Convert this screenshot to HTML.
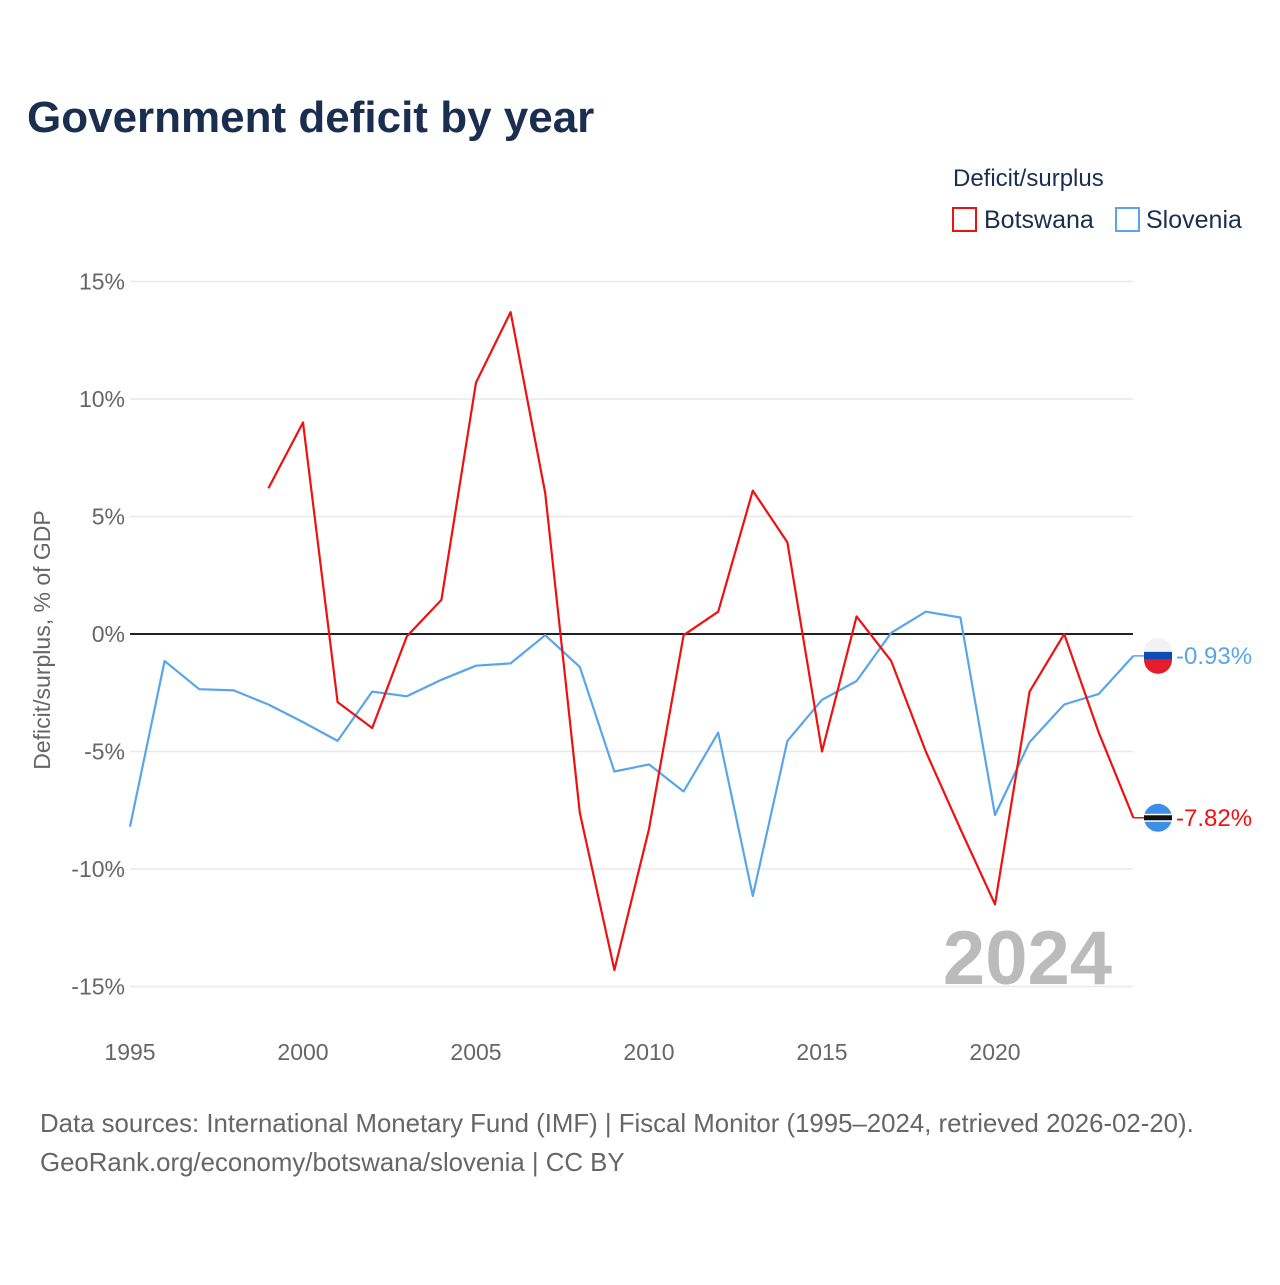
<!DOCTYPE html>
<html><head><meta charset="utf-8"><style>
body{margin:0;background:#fff;font-family:"Liberation Sans",sans-serif}
svg text{font-family:"Liberation Sans",sans-serif}
</style></head><body>
<svg id="chart" width="1280" height="1280" viewBox="0 0 1280 1280" xmlns="http://www.w3.org/2000/svg">
<rect width="1280" height="1280" fill="#fff"/>
<text x="27" y="132" font-size="44" font-weight="bold" fill="#1a2e4f">Government deficit by year</text>
<text x="953" y="186" font-size="24" fill="#1a2e4f">Deficit/surplus</text>
<g><rect x="953" y="208" width="23" height="23" fill="#fff" stroke="#ee1111" stroke-width="2"/><text x="984" y="228" font-size="25" fill="#1a2e4f">Botswana</text></g>
<g><rect x="1116" y="208" width="23" height="23" fill="#fff" stroke="#5aa5ea" stroke-width="2"/><text x="1146" y="228" font-size="25" fill="#1a2e4f">Slovenia</text></g>
<text transform="translate(50,640) rotate(-90)" text-anchor="middle" font-size="23" fill="#666">Deficit/surplus, % of GDP</text>
<g id="grid"></g><g id="axes"></g>
<text x="1112" y="984" text-anchor="end" font-size="76" font-weight="bold" fill="#bbb">2024</text>
<g id="series"></g>
<text x="40" y="1132" font-size="25.8" fill="#666">Data sources: International Monetary Fund (IMF) | Fiscal Monitor (1995–2024, retrieved 2026-02-20).</text>
<text x="40" y="1171" font-size="25.8" fill="#666">GeoRank.org/economy/botswana/slovenia | CC BY</text>
</svg>
<script>
const years=[1995,1996,1997,1998,1999,2000,2001,2002,2003,2004,2005,2006,2007,2008,2009,2010,2011,2012,2013,2014,2015,2016,2017,2018,2019,2020,2021,2022,2023,2024];
const botswana=[null,null,null,null,6.2,9.0,-2.9,-4.0,-0.1,1.45,10.7,13.7,6.0,-7.6,-14.3,-8.3,-0.05,0.95,6.1,3.9,-5.0,0.75,-1.15,-5.0,-8.3,-11.5,-2.45,0,-4.2,-7.82];
const slovenia=[-8.2,-1.15,-2.35,-2.4,-3.0,-3.75,-4.55,-2.45,-2.65,-1.95,-1.35,-1.25,-0.05,-1.4,-5.85,-5.55,-6.7,-4.2,-11.15,-4.55,-2.8,-2.0,0.05,0.95,0.7,-7.7,-4.6,-3.0,-2.55,-0.93];
const yTicks=[15,10,5,0,-5,-10,-15];
const xTicks=[1995,2000,2005,2010,2015,2020];
const NS="http://www.w3.org/2000/svg";
const x=v=>130+(v-1995)*(1133.4-130)/29;
const y=v=>634-v*23.5;
function mk(t,a,p){const e=document.createElementNS(NS,t);for(const k in a)e.setAttribute(k,a[k]);p.appendChild(e);return e;}
const grid=document.getElementById('grid'),axes=document.getElementById('axes'),ser=document.getElementById('series');
yTicks.forEach(t=>{
 const l=mk('line',{x1:130,x2:1133,y1:y(t),y2:y(t),stroke:t===0?'#222':'#e8e8e8','stroke-width':t===0?2:1.5},grid);
 
 
 const tx=mk('text',{x:125,y:y(t)+8,'text-anchor':'end','font-size':23,fill:'#666'},axes);
 tx.textContent=t+'%';
 
 
});
xTicks.forEach(t=>{
 const tx=mk('text',{x:x(t),y:1060,'text-anchor':'middle','font-size':23,fill:'#666'},axes);
 tx.textContent=t;
 
 
});
function line(vals,color,name){
 let d='',pen=false;
 vals.forEach((v,i)=>{if(v===null){pen=false;return;}d+=(pen?'L':'M')+x(years[i]).toFixed(1)+' '+y(v).toFixed(1)+' ';pen=true;});
 const p=mk('path',{d:d,fill:'none',stroke:color,'stroke-width':2.2,'stroke-linejoin':'round'},ser);
 
 
 const last=vals[vals.length-1],cy=y(last),cx=1158;
 mk('line',{x1:x(years[years.length-1]),x2:cx-14,y1:cy,y2:cy,stroke:color,'stroke-width':1.5},ser);
 const g=mk('g',{},ser);
 
 
 if(name==='slovenia'){
  mk('circle',{cx:cx,cy:cy,r:14,fill:'#fff'},g);
  mk('path',{d:`M${cx-14} ${cy+4} A14 14 0 0 0 ${cx+14} ${cy+4}Z`,fill:'#e61c2a'},g);
  mk('path',{d:`M${cx-14} ${cy-4} A14 14 0 0 1 ${cx+14} ${cy-4}Z`,fill:'#f2f2f2'},g);
  mk('path',{d:`M${cx-14} ${cy-4} H${cx+14} V${cy+4} H${cx-14}Z`,fill:'#0b4bb5'},g);
 }else{
  mk('circle',{cx:cx,cy:cy,r:14,fill:'#3b8fe6'},g);
  mk('rect',{x:cx-14,y:cy-4,width:28,height:8,fill:'#fff'},g);
  mk('rect',{x:cx-14,y:cy-2.5,width:28,height:5,fill:'#111'},g);
 }
 const t=mk('text',{x:1176,y:cy+8,'font-size':24,fill:color},ser);
 t.textContent=last.toFixed(2)+'%';
 
 
}
line(slovenia,'#5aa5ea','slovenia');
line(botswana,'#ee1111','botswana');
</script>
</body></html>
